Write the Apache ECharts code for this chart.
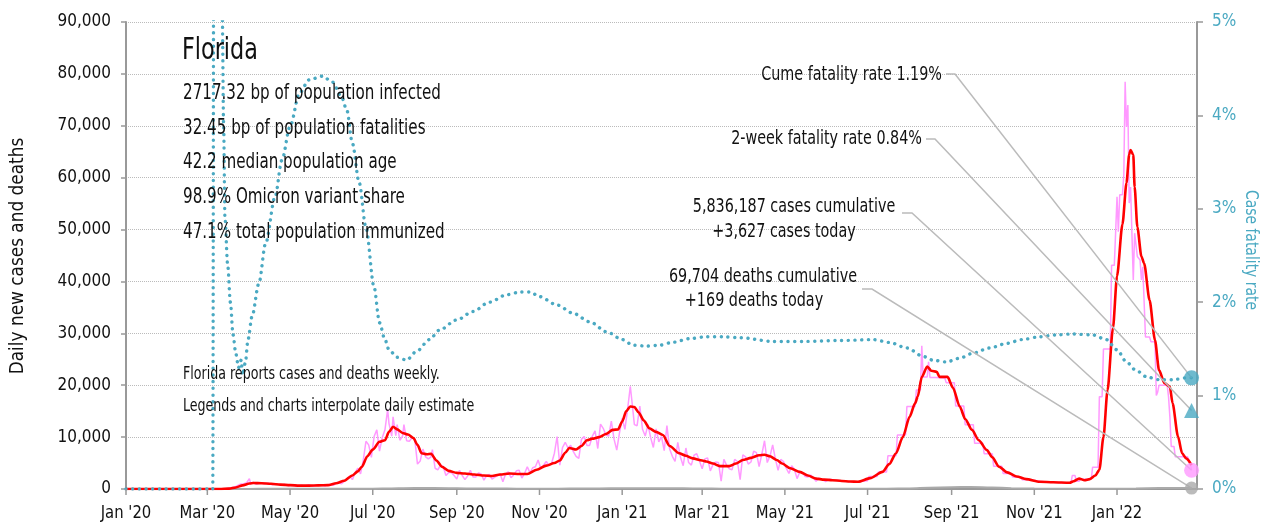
<!DOCTYPE html>
<html><head><meta charset="utf-8">
<script src="https://cdn.jsdelivr.net/npm/echarts@6/dist/echarts.min.js"></script>
<style>html,body{margin:0;padding:0;background:#fff}#c{width:1268px;height:529px}</style>
</head><body><div id="c"></div>
<script>
const FONT = '"DejaVu Sans Condensed","DejaVu Sans",sans-serif';

// ---- x axis ticks ----
const tickDates = ['2020-01-01','2020-03-01','2020-05-01','2020-07-01','2020-09-01','2020-11-01','2021-01-01','2021-03-01','2021-05-01','2021-07-01','2021-09-01','2021-11-01','2022-01-01'];
const tickLabels = ["Jan '20","Mar '20","May '20","Jul '20","Sep '20","Nov '20","Jan '21","Mar '21","May '21","Jul '21","Sep '21","Nov '21","Jan '22"];

// ---- 7-day average new cases ----
const avgCases = [
['2020-01-01',0],['2020-03-01',0],['2020-03-10',10],['2020-03-17',80],['2020-03-22',300],['2020-03-27',700],['2020-04-01',1050],['2020-04-04',1150],['2020-04-10',1100],['2020-04-17',1000],['2020-04-24',850],['2020-05-01',750],['2020-05-08',650],['2020-05-15',650],['2020-05-22',700],['2020-05-29',750],['2020-06-04',1100],['2020-06-10',1600],['2020-06-16',2600],['2020-06-20',3400],['2020-06-23',4300],['2020-06-27',6300],['2020-07-01',7600],['2020-07-06',9100],['2020-07-10',9400],['2020-07-13',11000],['2020-07-16',12000],['2020-07-19',11500],['2020-07-23',10800],['2020-07-27',10500],['2020-07-31',9800],['2020-08-03',8500],['2020-08-06',6900],['2020-08-10',6700],['2020-08-13',6800],['2020-08-17',5500],['2020-08-21',4300],['2020-08-26',3500],['2020-09-01',3100],['2020-09-07',3000],['2020-09-14',2800],['2020-09-21',2600],['2020-09-27',2500],['2020-10-03',2800],['2020-10-10',3000],['2020-10-17',2900],['2020-10-23',2900],['2020-10-30',3700],['2020-11-06',4500],['2020-11-12',5000],['2020-11-16',5500],['2020-11-20',7000],['2020-11-23',7900],['2020-11-28',7600],['2020-12-02',8300],['2020-12-06',9400],['2020-12-10',9700],['2020-12-15',10000],['2020-12-20',10600],['2020-12-25',11400],['2020-12-29',11500],['2021-01-01',13000],['2021-01-04',15000],['2021-01-07',15900],['2021-01-10',15800],['2021-01-13',14800],['2021-01-17',13200],['2021-01-21',11700],['2021-01-26',11000],['2021-01-31',10400],['2021-02-05',8300],['2021-02-12',6900],['2021-02-17',6400],['2021-02-22',5900],['2021-03-01',5500],['2021-03-04',5300],['2021-03-09',4900],['2021-03-14',4400],['2021-03-21',4400],['2021-03-26',4900],['2021-03-31',5600],['2021-04-06',6000],['2021-04-12',6500],['2021-04-16',6600],['2021-04-20',6300],['2021-04-25',5600],['2021-04-29',4900],['2021-05-05',4000],['2021-05-12',3300],['2021-05-18',2600],['2021-05-24',2000],['2021-05-30',1800],['2021-06-05',1700],['2021-06-12',1550],['2021-06-18',1450],['2021-06-24',1400],['2021-07-03',2100],['2021-07-12',3300],['2021-07-17',4800],['2021-07-22',6900],['2021-07-27',10000],['2021-08-01',13900],['2021-08-05',16500],['2021-08-07',17800],['2021-08-10',21600],['2021-08-14',23600],['2021-08-17',22800],['2021-08-21',22600],['2021-08-23',21600],['2021-08-29',21600],['2021-09-02',19500],['2021-09-07',15900],['2021-09-11',13500],['2021-09-16',11400],['2021-09-21',9400],['2021-09-27',7500],['2021-10-01',6100],['2021-10-06',4300],['2021-10-12',3200],['2021-10-19',2400],['2021-10-26',1900],['2021-11-05',1400],['2021-11-15',1300],['2021-11-27',1200],['2021-11-30',1500],['2021-12-04',2000],['2021-12-08',1700],['2021-12-12',1900],['2021-12-16',2600],['2021-12-19',3700],['2021-12-22',10000],['2021-12-25',19000],['2021-12-29',31000],['2022-01-01',41000],['2022-01-05',51000],['2022-01-08',59000],['2022-01-10',64500],['2022-01-11',65300],['2022-01-13',64400],['2022-01-14',58200],['2022-01-16',50500],['2022-01-19',44800],['2022-01-21',43500],['2022-01-25',36400],['2022-01-29',28700],['2022-02-01',22900],['2022-02-05',20400],['2022-02-09',19700],['2022-02-11',16500],['2022-02-15',10100],['2022-02-18',6900],['2022-02-21',5900],['2022-02-25',4600]
];

// ---- daily new cases (reported / interpolated) ----
const dailyCases = [
['2020-01-01',0],['2020-03-01',0],['2020-03-10',20],['2020-03-15',100],['2020-03-19',250],['2020-03-22',500],['2020-03-25',900],['2020-03-28',1000],['2020-03-30',1200],['2020-04-01',2000],['2020-04-02',1000],['2020-04-04',1300],['2020-04-06',900],['2020-04-09',1200],['2020-04-12',1000],['2020-04-15',1100],['2020-04-18',800],['2020-04-21',1000],['2020-04-24',700],['2020-04-27',900],['2020-04-30',600],['2020-05-03',800],['2020-05-06',500],['2020-05-09',700],['2020-05-12',600],['2020-05-15',800],['2020-05-18',500],['2020-05-21',800],['2020-05-24',700],['2020-05-27',600],['2020-05-30',900],['2020-06-02',700],['2020-06-05',1300],['2020-06-08',1000],['2020-06-11',1700],['2020-06-14',2500],['2020-06-16',1800],['2020-06-18',3200],['2020-06-20',4000],['2020-06-22',2900],['2020-06-24',5500],['2020-06-26',9200],['2020-06-28',8500],['2020-06-30',6100],['2020-07-02',10100],['2020-07-04',11400],['2020-07-06',7300],['2020-07-08',9900],['2020-07-10',11400],['2020-07-12',15300],['2020-07-13',12600],['2020-07-15',10200],['2020-07-16',13900],['2020-07-18',10300],['2020-07-19',12400],['2020-07-21',9400],['2020-07-23',10200],['2020-07-24',12400],['2020-07-26',9300],['2020-07-28',9200],['2020-07-30',9900],['2020-08-01',9600],['2020-08-03',4800],['2020-08-05',5400],['2020-08-07',7700],['2020-08-09',6200],['2020-08-11',5800],['2020-08-13',6200],['2020-08-14',7600],['2020-08-16',4000],['2020-08-18',3700],['2020-08-20',4600],['2020-08-22',4300],['2020-08-24',2600],['2020-08-26',3200],['2020-08-28',3200],['2020-08-30',2600],['2020-09-01',1900],['2020-09-03',3600],['2020-09-05',2600],['2020-09-07',1800],['2020-09-09',2500],['2020-09-11',3600],['2020-09-13',2300],['2020-09-15',2300],['2020-09-17',3100],['2020-09-19',2900],['2020-09-21',1700],['2020-09-23',2600],['2020-09-25',2800],['2020-09-27',1900],['2020-09-29',2300],['2020-10-01',2600],['2020-10-03',2900],['2020-10-05',1400],['2020-10-07',2900],['2020-10-09',3300],['2020-10-11',2200],['2020-10-13',2700],['2020-10-15',3500],['2020-10-17',3600],['2020-10-19',2100],['2020-10-21',3000],['2020-10-23',4300],['2020-10-25',3100],['2020-10-27',4100],['2020-10-29',4300],['2020-10-31',5600],['2020-11-02',3900],['2020-11-04',4600],['2020-11-06',5300],['2020-11-08',4500],['2020-11-10',5000],['2020-11-12',6900],['2020-11-14',10100],['2020-11-16',4600],['2020-11-18',8000],['2020-11-20',9000],['2020-11-22',7900],['2020-11-24',8400],['2020-11-26',7200],['2020-11-28',6300],['2020-11-30',5900],['2020-12-02',9600],['2020-12-04',10100],['2020-12-06',8400],['2020-12-08',8400],['2020-12-10',10200],['2020-12-12',11200],['2020-12-14',7800],['2020-12-16',12500],['2020-12-18',11700],['2020-12-20',10400],['2020-12-22',10200],['2020-12-24',13100],['2020-12-26',9600],['2020-12-28',7500],['2020-12-30',10800],['2021-01-01',13600],['2021-01-03',11500],['2021-01-05',15400],['2021-01-07',19800],['2021-01-08',17400],['2021-01-10',12400],['2021-01-12',12200],['2021-01-14',16000],['2021-01-16',11500],['2021-01-18',10200],['2021-01-20',12400],['2021-01-22',9900],['2021-01-24',8000],['2021-01-26',11600],['2021-01-28',9100],['2021-01-30',10100],['2021-02-01',7400],['2021-02-03',12200],['2021-02-05',7700],['2021-02-07',6300],['2021-02-09',5300],['2021-02-11',9000],['2021-02-13',6100],['2021-02-15',4500],['2021-02-17',7900],['2021-02-19',5100],['2021-02-21',4600],['2021-02-23',6500],['2021-02-25',6800],['2021-02-27',5400],['2021-03-01',3900],['2021-03-03',5800],['2021-03-05',6000],['2021-03-07',3500],['2021-03-09',4700],['2021-03-11',5200],['2021-03-13',5100],['2021-03-15',1500],['2021-03-17',5700],['2021-03-19',4600],['2021-03-21',3900],['2021-03-23',3700],['2021-03-25',5700],['2021-03-27',5300],['2021-03-29',1800],['2021-03-31',6600],['2021-04-02',6200],['2021-04-04',4800],['2021-04-06',5200],['2021-04-08',7300],['2021-04-10',7000],['2021-04-12',4300],['2021-04-14',6700],['2021-04-16',9300],['2021-04-18',5100],['2021-04-20',6300],['2021-04-22',8500],['2021-04-24',5800],['2021-04-26',3600],['2021-04-28',5700],['2021-04-30',5300],['2021-05-02',4000],['2021-05-04',3000],['2021-05-06',4500],['2021-05-08',3800],['2021-05-10',2000],['2021-05-12',3300],['2021-05-14',3100],['2021-05-16',2400],['2021-05-18',2300],['2021-05-20',2700],['2021-05-22',2200],['2021-05-24',1500],['2021-05-26',2100],['2021-05-28',1900],['2021-05-31',1400],['2021-06-03',1900],
['2021-06-04',1600],['2021-06-10',1600],['2021-06-11',1450],['2021-06-17',1450],['2021-06-18',1400],['2021-06-24',1400],['2021-06-25',1600],['2021-07-01',1600],['2021-07-02',2400],['2021-07-08',2400],['2021-07-09',3300],['2021-07-15',3300],['2021-07-16',6400],['2021-07-22',6400],['2021-07-23',10400],['2021-07-29',10400],['2021-07-30',15900],['2021-08-05',15900],['2021-08-06',19100],['2021-08-09',19100],['2021-08-10',27600],['2021-08-11',21600],['2021-08-14',21600],['2021-08-15',24500],['2021-08-16',21500],['2021-08-20',21500],['2021-08-21',21400],['2021-08-27',21400],['2021-08-28',20500],['2021-09-03',20500],['2021-09-04',16000],['2021-09-10',16000],['2021-09-11',12400],['2021-09-17',12400],['2021-09-18',8800],['2021-09-24',8800],['2021-09-25',6800],['2021-10-01',6800],['2021-10-02',4400],['2021-10-08',4400],['2021-10-09',3000],['2021-10-15',3000],['2021-10-16',2300],['2021-10-22',2300],['2021-10-23',1800],['2021-10-29',1800],['2021-10-30',1500],['2021-11-05',1500],['2021-11-06',1300],['2021-11-12',1300],['2021-11-13',1250],['2021-11-19',1250],['2021-11-20',1150],['2021-11-28',1150],['2021-11-29',2600],['2021-12-01',2600],['2021-12-02',1500],['2021-12-04',1500],['2021-12-05',1900],['2021-12-13',1900],['2021-12-14',4200],['2021-12-18',4200],['2021-12-19',17800],['2021-12-21',17800],['2021-12-22',27000],['2021-12-27',27000],['2021-12-28',43100],['2021-12-30',43100],['2021-12-31',49600],['2022-01-01',56300],['2022-01-02',49600],['2022-01-03',56700],['2022-01-05',56700],['2022-01-06',60500],['2022-01-07',78500],['2022-01-08',69800],['2022-01-09',74000],['2022-01-10',55100],['2022-01-11',58200],['2022-01-12',58200],['2022-01-13',40300],['2022-01-14',49300],['2022-01-16',44800],['2022-01-18',44100],['2022-01-19',40300],['2022-01-20',42800],['2022-01-21',42800],['2022-01-22',29300],['2022-01-25',29300],['2022-01-26',28400],['2022-01-29',28400],['2022-01-30',18000],['2022-01-31',18700],['2022-02-01',20000],['2022-02-07',20000],['2022-02-08',17800],['2022-02-09',13900],['2022-02-10',8200],['2022-02-12',8200],['2022-02-13',6200],['2022-02-22',6200],['2022-02-24',5000],['2022-02-25',3627]
];

// ---- daily new deaths (7-day) ----
const dailyDeaths = [
['2020-01-01',0],['2020-03-10',0],['2020-03-20',5],['2020-04-01',20],['2020-04-15',50],['2020-05-01',40],['2020-05-15',40],['2020-06-01',35],['2020-06-15',35],['2020-07-01',50],['2020-07-15',110],['2020-08-01',180],['2020-08-15',180],['2020-09-01',130],['2020-09-15',100],['2020-10-01',90],['2020-10-15',70],['2020-11-01',60],['2020-11-15',70],['2020-12-01',90],['2020-12-15',110],['2021-01-01',140],['2021-01-15',160],['2021-02-01',160],['2021-02-15',130],['2021-03-01',100],['2021-03-15',70],['2021-04-01',60],['2021-04-15',55],['2021-05-01',60],['2021-05-15',50],['2021-06-01',40],['2021-06-15',30],['2021-07-01',30],['2021-07-15',50],['2021-08-01',120],['2021-08-15',250],['2021-09-01',350],['2021-09-15',380],['2021-10-01',280],['2021-10-15',160],['2021-11-01',80],['2021-11-15',40],['2021-12-01',30],['2021-12-15',30],['2022-01-01',50],['2022-01-15',100],['2022-02-01',180],['2022-02-15',200],['2022-02-25',169]
];

// ---- case fatality rate (%) ----
const cfrPct = [
['2020-01-01',0],['2020-03-05',0],['2020-03-06',9],['2020-03-11',9],['2020-03-12',5.1],['2020-03-13',3.9],['2020-03-14',2.9],['2020-03-16',2.4],['2020-03-18',2.0],['2020-03-20',1.65],['2020-03-22',1.45],['2020-03-24',1.3],['2020-03-26',1.38],['2020-03-27',1.22],['2020-03-29',1.35],['2020-03-31',1.6],['2020-04-03',1.85],['2020-04-08',2.2],['2020-04-13',2.63],['2020-04-20',3.13],['2020-04-25',3.52],['2020-05-01',3.88],['2020-05-08',4.24],['2020-05-15',4.38],['2020-05-25',4.42],['2020-06-01',4.36],['2020-06-08',4.2],['2020-06-12',4.05],['2020-06-16',3.7],['2020-06-21',3.28],['2020-06-26',2.8],['2020-07-02',2.16],['2020-07-06',1.78],['2020-07-10',1.6],['2020-07-13',1.49],['2020-07-19',1.41],['2020-07-26',1.38],['2020-08-02',1.47],['2020-08-12',1.6],['2020-08-19',1.7],['2020-09-01',1.81],['2020-09-13',1.9],['2020-09-25',2.0],['2020-10-08',2.08],['2020-10-18',2.11],['2020-10-25',2.11],['2020-11-01',2.06],['2020-11-14',1.97],['2020-11-26',1.88],['2020-12-08',1.79],['2020-12-21',1.68],['2021-01-01',1.6],['2021-01-09',1.54],['2021-01-19',1.53],['2021-01-29',1.54],['2021-02-07',1.57],['2021-02-20',1.61],['2021-03-04',1.63],['2021-03-16',1.63],['2021-03-29',1.62],['2021-04-22',1.58],['2021-05-17',1.58],['2021-06-11',1.59],['2021-07-05',1.6],['2021-07-17',1.57],['2021-07-30',1.51],['2021-08-11',1.42],['2021-08-18',1.38],['2021-08-28',1.36],['2021-09-07',1.40],['2021-09-16',1.45],['2021-09-29',1.51],['2021-10-12',1.56],['2021-10-23',1.6],['2021-11-05',1.63],['2021-11-17',1.65],['2021-11-29',1.66],['2021-12-14',1.65],['2021-12-24',1.6],['2022-01-01',1.49],['2022-01-08',1.36],['2022-01-15',1.27],['2022-01-23',1.2],['2022-02-01',1.17],['2022-02-11',1.17],['2022-02-21',1.19],['2022-02-25',1.19]
];

// ---- latest values ----
const lastDate = '2022-02-25';
const cumeRate = 1.19, twoWeekRate = 0.84, casesToday = 3627, deathsToday = 169;

// ---- text ----
const stateName = 'Florida';
const statLines = ['2717.32 bp of population infected','32.45 bp of population fatalities','42.2 median population age','98.9% Omicron variant share','47.1% total population immunized'];
const noteLines = ['Florida reports cases and deaths weekly.','Legends and charts interpolate daily estimates.'];
const cumeLabel = 'Cume fatality rate 1.19%';
const twoWeekLabel = '2-week fatality rate 0.84%';
const casesLabel = ['5,836,187 cases cumulative','+3,627 cases today'];
const deathsLabel = ['69,704 deaths cumulative','+169 deaths today'];
const leftName = 'Daily new cases and deaths';
const rightName = 'Case fatality rate';

const ts = s => { const p = s.split('-').map(Number); return new Date(p[0], p[1]-1, p[2]).getTime(); };
const conv = arr => arr.map(d => [ts(d[0]), d[1]]);
const tickTs = tickDates.map(ts);

const TEAL = '#4aa9c2';
const INK = '#111';
const chart = echarts.init(document.getElementById('c'), null, {renderer:'canvas'});
chart.setOption({
  animation:false,
  backgroundColor:'#fff',
  grid:{left:126, right:71, top:22, bottom:40, containLabel:false, outerBoundsMode:'none'},
  xAxis:{
    type:'time', min:ts('2020-01-01'), max:ts('2022-03-01'),
    axisLine:{lineStyle:{color:'#999', width:2}},
    axisTick:{show:false},
    axisLabel:{show:false},
    splitLine:{show:false}
  },
  yAxis:[
    {type:'value', min:0, max:90000, interval:10000, position:'left',
     axisLine:{show:true, lineStyle:{color:'#999', width:2}},
     axisTick:{show:true, length:5, lineStyle:{color:'#999', width:1.5}},
     axisLabel:{color:INK, fontFamily:FONT, fontSize:17, margin:15},
     splitLine:{show:true, lineStyle:{color:'#bbb', type:'dotted', width:1}}},
    {type:'value', min:0, max:5, interval:1, position:'right',
     axisLine:{show:true, lineStyle:{color:'#999', width:2}},
     axisTick:{show:true, length:6, lineStyle:{color:'#999', width:1.5}},
     axisLabel:{color:TEAL, fontFamily:FONT, fontSize:17, margin:15, formatter:'{value}%'},
     splitLine:{show:false}}
  ],
  series:[
    {name:'deaths', type:'line', yAxisIndex:0, data:conv(dailyDeaths), showSymbol:false, smooth:0.3,
     lineStyle:{color:'#aaa', width:2}, z:2},
    {name:'daily cases', type:'line', yAxisIndex:0, data:conv(dailyCases), showSymbol:false,
     lineStyle:{color:'#ff99ff', width:1.5}, z:3},
    {name:'avg cases', type:'line', yAxisIndex:0, data:conv(avgCases), showSymbol:false, smooth:0.25, smoothMonotone:'x',
     lineStyle:{color:'#ff0000', width:2.6}, z:4},
    {name:'cfr', type:'line', yAxisIndex:1, data:conv(cfrPct), showSymbol:false, smooth:0.3, smoothMonotone:'x',
     lineStyle:{color:TEAL, width:3.4, type:[0.1,6.6], cap:'round'}, z:5},
    {name:'deathsEnd', type:'scatter', yAxisIndex:0, data:[[ts(lastDate), deathsToday]], symbol:'circle', symbolSize:13,
     itemStyle:{color:'#aaa'}, z:10},
    {name:'casesEnd', type:'scatter', yAxisIndex:0, data:[[ts(lastDate), casesToday]], symbol:'circle', symbolSize:15,
     itemStyle:{color:'#ff99ff'}, z:10},
    {name:'twoWeekEnd', type:'scatter', yAxisIndex:1, data:[[ts(lastDate), twoWeekRate]], symbol:'triangle', symbolSize:15,
     itemStyle:{color:TEAL}, z:10},
    {name:'cumeEnd', type:'scatter', yAxisIndex:1, data:[[ts(lastDate), cumeRate]], symbol:'circle', symbolSize:15,
     itemStyle:{color:TEAL}, z:10}
  ]
});

function px(seriesIndex, val){ return chart.convertToPixel({seriesIndex}, val); }
const pDeath = px(4, [ts(lastDate), deathsToday]);
const pCase = px(5, [ts(lastDate), casesToday]);
const pTwo = px(6, [ts(lastDate), twoWeekRate]);
const pCume = px(7, [ts(lastDate), cumeRate]);

const LINE = {stroke:'#bbb', lineWidth:1.5, fill:null};
function leader(x0, y0, x1, p){ return {type:'polyline', z:8, silent:true, shape:{points:[[x0,y0],[x1,y0],[p[0],p[1]]]}, style:LINE}; }
function txt(text, x, y, size, align, sx, extra){
  const st = Object.assign({text, x:0, y:0, font:size+'px '+FONT, fill:INK,
    textAlign:align||'left', align:align||'left', textVerticalAlign:'middle', verticalAlign:'middle'}, extra||{});
  return {type:'text', z:20, silent:true, x, y, scaleX:sx||1, scaleY:1, style:st};
}
const g = [];
// x-axis ticks and labels placed through the axis scale
const yBase = px(4, [tickTs[0], 0])[1];
tickTs.forEach((t,i)=>{
  const x = px(4, [t, 0])[0];
  g.push({type:'line', z:6, silent:true, shape:{x1:x, y1:yBase, x2:x, y2:yBase+6}, style:{stroke:'#999', lineWidth:1.5}});
  g.push(txt(tickLabels[i], x, yBase+25, 17, 'center', 0.97));
});
// axis names
g.push(Object.assign(txt(leftName, 18, 256, 19, 'center', 0.99), {rotation:Math.PI/2}));
g.push(Object.assign(txt(rightName, 1251, 250, 18, 'center', 0.86, {fill:TEAL}), {rotation:-Math.PI/2}));
// leader lines
g.push(leader(946, 74, 955, pCume));
g.push(leader(926, 139, 935, pTwo));
g.push(leader(902, 213, 912, pCase));
g.push(leader(862, 289, 872, pDeath));
const AS = 0.84;
g.push(txt(cumeLabel, 942, 75, 19, 'right', AS));
g.push(txt(twoWeekLabel, 922, 139, 19, 'right', AS));
g.push(txt(casesLabel[0], 794, 207, 19, 'center', AS));
g.push(txt(casesLabel[1], 784, 232, 19, 'center', AS));
g.push(txt(deathsLabel[0], 763, 277, 19, 'center', AS));
g.push(txt(deathsLabel[1], 754, 301, 19, 'center', AS));
g.push(txt(stateName, 182, 51, 31, 'left', 0.8));
statLines.forEach((s,i)=> g.push(txt(s, 183, 93 + i*34.8, 22, 'left', 0.765)));
g.push(txt(noteLines[0], 183, 374, 18, 'left', 0.78));
g.push(txt(noteLines[1], 183, 406, 18, 'left', 0.78, {width:379, overflow:'truncate', ellipsis:''}));
chart.setOption({graphic:g});
</script>
</body></html>
